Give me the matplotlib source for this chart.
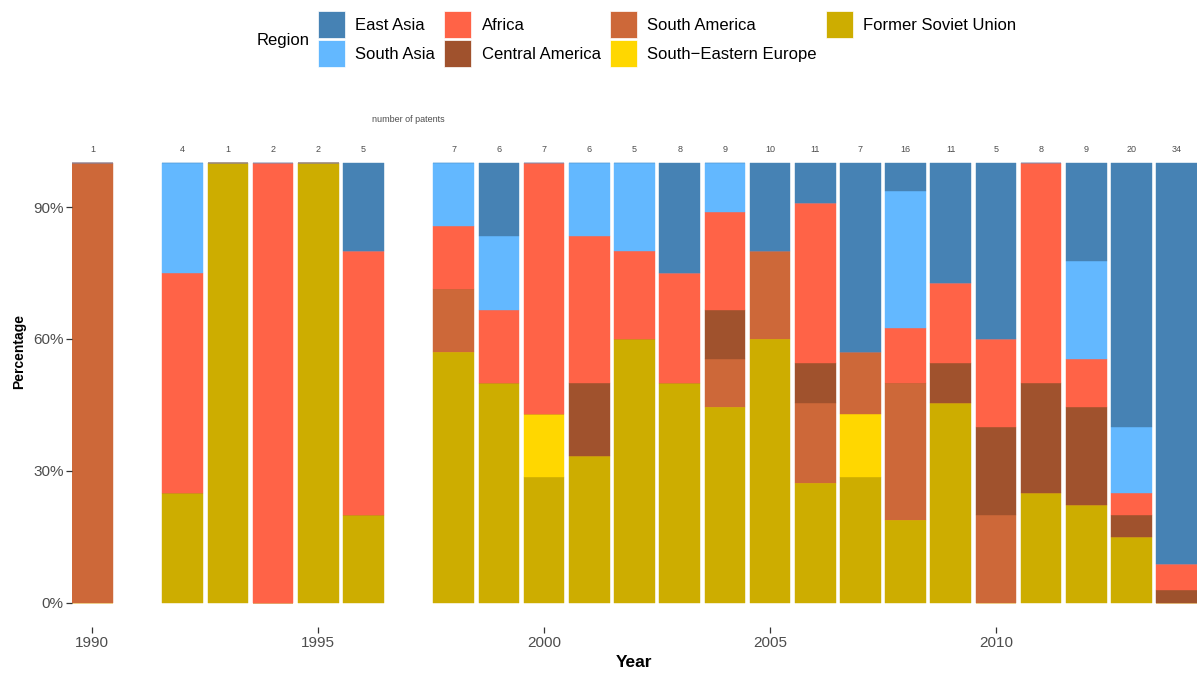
import numpy as np
import matplotlib
matplotlib.use("Agg")
import matplotlib.pyplot as plt
from matplotlib.patches import Patch

plt.rcParams['font.family'] = ['Liberation Sans', 'DejaVu Sans']

# ---------- Data ----------
years = [1990, 1992, 1993, 1994, 1995, 1996, 1998, 1999, 2000, 2001, 2002, 2003,
         2004, 2005, 2006, 2007, 2008, 2009, 2010, 2011, 2012, 2013, 2014]

# patents per region and year (stacked bottom -> top)
former_soviet_union = [0, 1, 1, 0, 2, 1, 4, 3, 2, 2, 3, 4, 4, 6, 3, 2, 3, 5, 0, 2, 2, 3, 0]
south_eastern_europe = [0, 0, 0, 0, 0, 0, 0, 0, 1, 0, 0, 0, 0, 0, 0, 1, 0, 0, 0, 0, 0, 0, 0]
south_america = [1, 0, 0, 0, 0, 0, 1, 0, 0, 0, 0, 0, 1, 2, 2, 1, 5, 0, 1, 0, 0, 0, 0]
central_america = [0, 0, 0, 0, 0, 0, 0, 0, 0, 1, 0, 0, 1, 0, 1, 0, 0, 1, 1, 2, 2, 1, 1]
africa = [0, 2, 0, 2, 0, 3, 1, 1, 4, 2, 1, 2, 2, 0, 4, 0, 2, 2, 1, 4, 1, 1, 2]
south_asia = [0, 1, 0, 0, 0, 0, 1, 1, 0, 1, 1, 0, 1, 0, 0, 0, 5, 0, 0, 0, 2, 3, 0]
east_asia = [0, 0, 0, 0, 0, 1, 0, 1, 0, 0, 0, 2, 0, 2, 1, 3, 1, 3, 2, 0, 2, 12, 31]

stack = [
    ("Former Soviet Union", former_soviet_union, "#CDAD00"),
    ("South\u2212Eastern Europe", south_eastern_europe, "#FFD700"),
    ("South America", south_america, "#CD6839"),
    ("Central America", central_america, "#A0522D"),
    ("Africa", africa, "#FF6347"),
    ("South Asia", south_asia, "#63B8FF"),
    ("East Asia", east_asia, "#4682B4"),
]

legend_order = ["East Asia", "South Asia", "Africa", "Central America",
                "South America", "South\u2212Eastern Europe", "Former Soviet Union"]

# ---------- Plot ----------
totals = np.sum([s[1] for s in stack], axis=0)
x = np.array(years)

fig = plt.figure(figsize=(12, 6.73), dpi=100)
ax = fig.add_axes([0.06, 0.0681, 0.9375, 0.791])

bottom = np.zeros(len(years))
colors = {}
for name, vals, col in stack:
    share = np.array(vals) / totals
    ax.bar(x, share, width=0.9, bottom=bottom, color=col,
           edgecolor=col, linewidth=0.3)
    bottom += share
    colors[name] = col

for xi, t in zip(x, totals):
    ax.text(xi, 1.03, str(t), ha='center', va='center', fontsize=6.5, color='#4D4D4D')
ax.text(1997, 1.10, "number of patents", ha='center', va='center', fontsize=6.5,
        color='#4D4D4D')

ax.set_xlim(1989.55, 2014.45)
ax.set_ylim(-0.055, 1.155)
ax.set_yticks([0, 0.3, 0.6, 0.9])
ax.set_yticklabels(["0%", "30%", "60%", "90%"])
ax.set_xticks([1990, 1995, 2000, 2005, 2010])
ax.tick_params(axis='both', colors='#333333', labelcolor='#4D4D4D', labelsize=11,
               length=4, width=0.9, pad=2)
for s in ax.spines.values():
    s.set_visible(False)

ax.set_xlabel("Year", fontsize=12.5, fontweight='bold', labelpad=4)
ax.set_ylabel("Percentage", fontsize=10, fontweight='bold')
ax.yaxis.set_label_coords(-0.041, 0.517)

handles = [Patch(facecolor=colors[n], edgecolor='white', linewidth=0.5) for n in legend_order]
fig.legend(handles, legend_order, ncol=4, loc='upper left',
           bbox_to_anchor=(318 / 1200, 1 - 11 / 673),
           frameon=False, fontsize=12, handlelength=1.62, handleheight=2.11,
           handletextpad=0.62, columnspacing=0.55, labelspacing=0.12,
           borderaxespad=0, borderpad=0)
fig.text(257 / 1200, 1 - 40 / 673, "Region", fontsize=12, va='center', ha='left',
         color='black')

fig.savefig("out.png", dpi=100)
